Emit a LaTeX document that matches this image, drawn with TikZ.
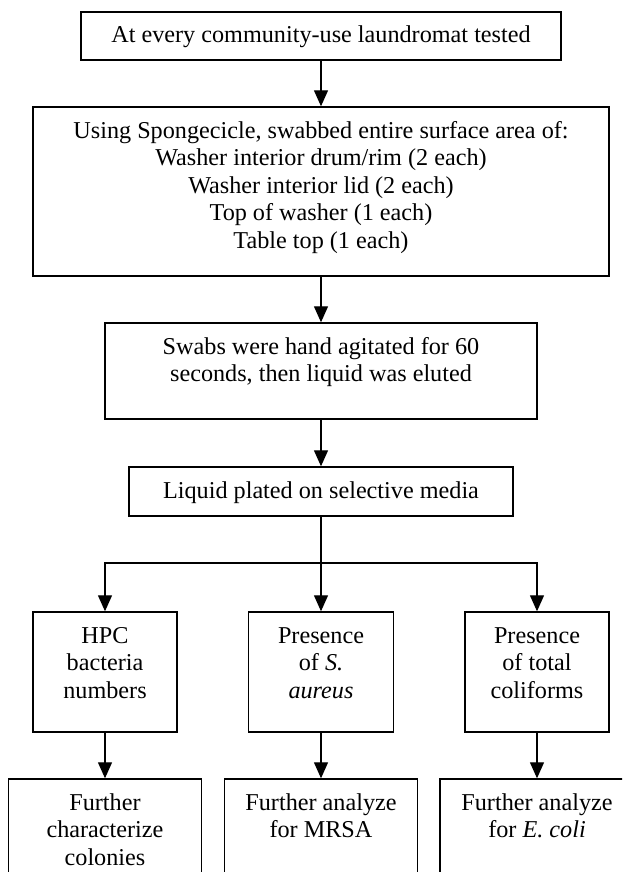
\documentclass[tikz,border=0pt]{standalone}
\usepackage{fontspec}
\setmainfont{Liberation Serif}
\usetikzlibrary{arrows.meta}
\newcommand{\celltext}[3]{\parbox[c][#2][t]{#1}{\centering\vspace*{11.75pt}\strut #3}}

\begin{document}
\begin{tikzpicture}[x=1pt,y=1pt,font=\fontsize{24.2}{27.5}\selectfont,
  every node/.style={draw,line width=1.4pt,inner sep=0pt},
  link/.style={line width=1.2pt,-{Triangle[length=16pt,width=14pt]}}]
  \useasboundingbox (0,0) rectangle (622,-872);
  \clip (0,0) rectangle (622,-872);

  \node (top)     at (321,-36)    {\celltext{480pt}{48pt}{At every community-use laundromat tested}};
  \node (swab)    at (321,-191.5) {\celltext{576pt}{169pt}{Using Spongecicle, swabbed entire surface area of:\\
    Washer interior drum/rim (2 each)\\ Washer interior lid (2 each)\\ Top of washer (1 each)\\ Table top (1 each)}};
  \node (agitate) at (321,-371)   {\celltext{432pt}{96pt}{Swabs were hand agitated for 60\\ seconds, then liquid was eluted}};
  \node (plate)   at (321,-491.5) {\celltext{384pt}{49pt}{Liquid plated on selective media}};

  \node (hpc)     at (105,-672) {\celltext{144pt}{120pt}{HPC\\ bacteria\\ numbers}};
  \node (saureus) at (321,-672) {\celltext{145pt}{120pt}{Presence\\ of \textit{S.}\\ \textit{aureus}}};
  \node (coli)    at (537,-672) {\celltext{144pt}{120pt}{Presence\\ of total\\ coliforms}};

  \node (char)    at (105,-839) {\celltext{193pt}{120pt}{Further\\ characterize\\ colonies}};
  \node (mrsa)    at (321,-839) {\celltext{193pt}{120pt}{Further analyze\\ for MRSA}};
  \node (ecoli)   at (537,-839) {\celltext{194pt}{120pt}{Further analyze\\ for \textit{E. coli}}};

  \draw[link] (top) -- (swab);
  \draw[link] (swab) -- (agitate);
  \draw[link] (agitate) -- (plate);

  % split into the three media
  \coordinate (split) at (321,-563);
  \draw[line width=1.2pt] (plate) -- (split);
  \draw[link] (split) -| (hpc);
  \draw[link] (split) -- (saureus);
  \draw[link] (split) -| (coli);

  \foreach \a/\b in {hpc/char,saureus/mrsa,coli/ecoli}{
    \draw[link] (\a) -- (\b);
  }
\end{tikzpicture}
\end{document}
